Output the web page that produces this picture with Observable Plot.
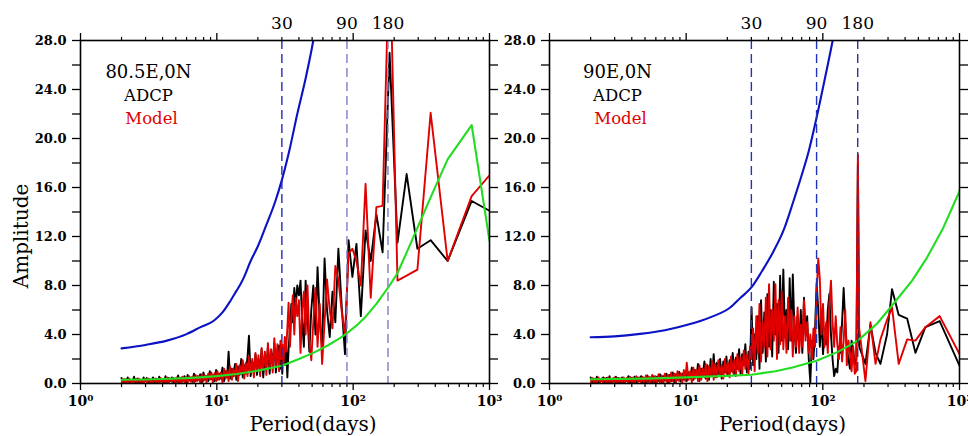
<!DOCTYPE html>
<html><head><meta charset="utf-8">
<script src="https://cdn.jsdelivr.net/npm/d3@7"></script>
<script src="https://cdn.jsdelivr.net/npm/@observablehq/plot@0.6"></script>
<style>
body{margin:0;background:#fff;}
#chart{display:flex;width:968px;height:436px;overflow:hidden;background:#fff;}
#chart svg{flex:none;max-width:none;}
</style></head><body><div id="chart"></div>
<script>
// ---------- labels & ticks ----------
const panelTitles = ["80.5E,0N", "90E,0N"];
const seriesNames = ["ADCP", "Model"];
const yAxisTitle = "Amplitude";
const xAxisTitle = "Period(days)";
const yTicks = [0, 4, 8, 12, 16, 20, 24, 28];
const yMinorTicks = [2, 6, 10, 14, 18, 22, 26];
const xDecades = [1, 10, 100, 1000];
const xMinorTicks = [2,3,4,5,6,7,8,9,20,30,40,50,60,70,80,90,200,300,400,500,600,700,800,900];
const markedPeriods = [30, 90, 180];

// ---------- short-period band (shared period grid, days) ----------
const shortPeriods = [
 2.00,2.05,2.11,2.16,2.22,2.28,2.34,2.41,2.47,2.54,2.61,2.68,2.75,2.82,2.90,2.98,3.06,3.14,3.22,3.31,
 3.40,3.49,3.58,3.68,3.78,3.88,3.99,4.09,4.20,4.32,4.43,4.55,4.68,4.80,4.93,5.07,5.20,5.34,5.49,5.64,
 5.79,5.95,6.11,6.27,6.44,6.62,6.80,6.98,7.17,7.36,7.56,7.77,7.98,8.19,8.41,8.64,8.88,9.12,9.36,9.62,
 9.88,10.1,10.4,10.7,11.0,11.3,11.6,11.9,12.2,12.5,12.9,13.2,13.6,13.9,14.3,14.7,15.1,15.5,15.9,16.3,
 16.8,17.2,17.7,18.2,18.7,19.2,19.7,20.2,20.8,21.3,21.9,22.5,23.1,23.7,24.4,25.0,25.7,26.4,27.1,27.8,28.6,29.3];

// ---------- Left panel: 80.5E,0N ----------
const adcpShortL = [
 0.45,0.05,0.35,0.1,0.5,0.0,0.3,0.15,0.55,0.05,0.4,0.1,0.3,0.0,0.5,0.2,0.45,0.05,0.35,0.1,
 0.5,0.1,0.4,0.0,0.55,0.15,0.35,0.05,0.6,0.1,0.45,0.2,0.5,0.05,0.4,0.15,0.65,0.1,0.5,0.2,
 0.6,0.1,0.7,0.25,0.5,0.15,0.8,0.2,0.6,0.3,0.75,0.1,0.9,0.3,0.6,0.2,1.0,0.35,0.7,0.2,
 1.1,0.3,0.8,0.4,1.3,0.2,1.0,0.5,2.6,0.4,1.2,0.6,1.6,0.3,1.4,0.7,2.0,0.5,1.5,0.8,
 2.2,3.9,0.6,1.8,1.0,2.4,0.7,2.0,1.2,2.8,0.5,2.2,1.4,3.0,0.8,2.6,1.6,3.3,0.9,2.4,3.1,1.2];
const modelShortL = [
 0.0,0.35,0.05,0.3,0.0,0.4,0.1,0.3,0.0,0.35,0.05,0.4,0.1,0.3,0.0,0.35,0.1,0.4,0.05,0.3,
 0.0,0.4,0.1,0.35,0.0,0.45,0.1,0.3,0.05,0.5,0.0,0.4,0.15,0.45,0.05,0.5,0.1,0.4,0.0,0.55,
 0.1,0.5,0.05,0.6,0.15,0.55,0.0,0.7,0.2,0.6,0.05,0.75,0.2,0.65,0.1,0.8,0.3,0.9,0.1,0.85,
 0.2,1.0,0.3,0.9,0.1,1.2,0.4,1.0,0.2,1.4,0.3,1.2,0.6,1.6,0.2,1.5,0.8,1.9,0.4,1.7,
 0.6,2.2,0.9,2.0,0.5,2.5,1.0,2.3,0.6,2.9,1.2,2.6,0.7,3.3,1.3,2.8,0.9,3.7,1.5,3.2,1.0,3.5];
const longPeriodsL = [29.6,30.2,30.8,31.5,32.2,32.9,33.6,34.4,35.2,36.1,37.0,37.9,38.9,40.0,41.1,42.3,43.5,44.8,46.25,47.7,
 49.3,51.0,52.9,54.8,56.9,59.2,61.7,64.3,67.3,70.5,74.0,77.9,82.2,87.1,92.5,98.7,105.7,113.8,123.3,134.5,
 148.0,164.4,185.0,211.4,246.7,296.0,370.0,493.3,740.0,1000];
const adcpLongL = [2.8,0.8,3.0,1.5,3.4,0.5,2.8,4.5,6.5,5.0,7.8,6.2,8.0,7.2,8.4,5.0,3.0,8.4,5.5,2.6,
 6.0,8.0,4.0,9.5,5.0,2.9,10.2,6.0,3.8,7.5,5.0,11.0,6.5,2.4,11.7,8.7,11.4,5.5,12.5,10.0,
 13.8,10.7,27.0,11.5,17.1,11.0,11.7,10.0,14.9,14.1];
const modelLongL = [2.0,3.2,1.5,3.8,2.6,4.5,6.6,3.0,5.5,7.2,4.0,7.0,5.5,6.8,2.5,6.0,7.5,4.0,8.0,3.5,
 1.9,5.0,7.8,3.0,6.5,1.6,5.0,8.5,6.0,4.5,9.6,8.5,6.0,4.0,10.6,11.0,10.0,8.0,16.3,7.0,
 14.4,14.5,36.0,8.4,8.8,9.3,22.1,10.0,15.3,17.0];
const noisePeriodsL = [2,3,4.3,6,7.6,9.5,11,12.6,14,14.9,15.8,17.7,20,23,26.9,29.9,34,38.9,45,51,54];
const noiseL = [2.87,3.15,3.5,4.03,4.6,5.12,5.8,6.76,7.6,8.1,8.66,10.0,11.2,12.9,14.9,16.56,19.0,22.0,25.0,28.0,29.6];
const meanPeriodsL = [2,3,4,6,8,10,14,20,25,30,40,51,65,80,90,105,120,148,185,211,247,296,370,493,740,1000];
const meanL = [0.3,0.33,0.37,0.44,0.52,0.6,0.77,1.05,1.26,1.45,2.0,2.5,3.1,3.7,4.1,4.7,5.3,6.5,8.0,9.0,10.7,12.7,15.2,18.3,21.1,11.65];

// ---------- Right panel: 90E,0N ----------
const adcpShortR = [
 0.5,0.05,0.4,0.1,0.55,0.0,0.35,0.2,0.5,0.05,0.45,0.1,0.6,0.0,0.4,0.15,0.55,0.05,0.45,0.1,
 0.5,0.0,0.4,0.2,0.6,0.05,0.45,0.1,0.55,0.0,0.5,0.2,0.6,0.1,0.45,0.0,0.65,0.15,0.5,0.1,
 0.6,0.0,0.55,0.2,0.75,0.1,0.6,0.25,0.8,0.05,0.7,0.2,0.9,0.1,0.75,0.3,0.95,0.15,0.8,0.3,
 1.0,0.2,0.9,0.4,1.3,0.3,1.1,0.5,1.6,0.2,1.2,0.6,1.8,0.4,1.5,0.3,2.0,0.6,2.4,0.5,
 1.7,0.8,2.0,0.4,1.8,0.9,2.2,0.6,1.9,1.0,2.5,0.7,2.1,1.2,2.8,0.8,2.4,1.5,3.2,0.9,2.6,1.2];
const modelShortR = [
 0.0,0.45,0.05,0.35,0.0,0.5,0.1,0.4,0.0,0.45,0.05,0.5,0.0,0.4,0.1,0.5,0.0,0.45,0.05,0.4,
 0.0,0.5,0.1,0.45,0.0,0.55,0.05,0.5,0.0,0.6,0.1,0.5,0.0,0.55,0.05,0.65,0.1,0.55,0.0,0.7,
 0.05,0.6,0.0,0.75,0.1,0.65,0.0,0.8,0.15,0.7,0.0,0.9,0.2,0.8,0.05,1.0,0.2,0.85,0.1,1.1,
 0.2,1.7,0.3,1.0,0.1,1.3,0.4,1.1,0.2,1.5,0.3,1.2,0.5,1.6,0.2,1.4,0.6,1.8,0.3,1.6,
 0.5,1.9,0.7,1.5,0.4,2.0,0.8,1.7,0.5,2.2,0.9,1.9,0.6,2.4,1.0,2.1,0.7,2.7,1.2,2.3,0.8,3.0];
const longPeriodsR = [30.1,30.9,31.7,32.6,33.5,34.4,35.3,36.3,37.3,38.3,39.3,40.4,41.5,42.6,43.8,45.0,46.2,47.4,48.7,50.0,
 51.4,52.8,54.2,55.7,57.2,58.7,60.3,62.0,63.6,65.4,67.1,69.0,70.8,72.8,74.7,76.8,78.9,81.0,83.2,85.4,
 87.7,90.1,92.6,95.1,97.7,100.3,103.0,105.8,108.7,111.6,114.7,117.8,121.0,124.2,127.6,131.1,134.6,138.3,142.0,145.9,
 149.8,153.9,158.0,162.3,166.7,171.2,175.8,180.5,184.5,205,223,243,264,295,321,359,414,476,563,716,1000];
const adcpLongR = [6.2,1.5,4.0,2.0,5.5,1.2,6.8,2.5,5.8,1.8,7.3,3.0,6.0,2.2,8.3,4.0,6.5,2.5,8.8,3.5,
 9.3,4.0,6.0,2.8,8.6,3.5,8.9,4.5,2.5,5.5,3.0,6.0,2.5,7.0,4.0,5.5,2.0,0.1,3.5,2.0,
 4.5,8.2,6.0,3.0,5.5,2.4,4.0,3.2,6.0,7.3,4.0,2.0,0.6,1.2,0.9,3.0,2.5,5.0,7.8,5.0,
 3.0,2.0,1.2,3.5,2.8,1.5,2.0,18.0,3.0,1.6,4.8,2.5,1.6,4.0,7.7,5.6,5.3,2.5,4.6,5.1,1.45];
const modelLongR = [2.0,4.5,1.0,5.5,2.5,6.5,1.8,5.0,3.0,7.0,2.2,8.1,2.8,6.0,3.5,8.1,2.0,6.8,3.2,7.5,
 2.8,5.5,2.5,7.0,3.5,6.0,2.2,5.5,3.0,6.2,2.5,4.8,3.0,6.8,3.5,5.0,2.5,4.0,2.0,4.5,
 3.0,7.5,10.2,8.5,4.0,6.5,3.0,5.0,2.5,6.5,8.4,5.0,3.0,5.5,3.2,2.0,4.6,1.8,3.5,6.0,
 1.5,3.5,2.5,1.0,3.0,0.8,1.0,18.7,4.5,0.2,5.0,1.6,3.6,5.2,6.2,1.6,3.6,3.5,4.6,5.5,2.4];
const noisePeriodsR = [2,3,4.6,7,10.7,15,21,25,30,36,43.6,52,61,70,79,90,104,118,124];
const noiseR = [3.78,3.85,4.05,4.35,4.85,5.4,6.2,7.0,7.84,9.2,10.8,12.6,14.9,17.0,19.0,21.7,25.0,28.0,29.3];
const meanPeriodsR = [2,5,10,20,30,45,60,90,130,180,250,320,450,580,760,1000];
const meanR = [0.35,0.4,0.5,0.62,0.72,1.0,1.3,1.85,2.6,3.5,4.9,6.35,8.4,10.3,12.7,15.7];

// ---------- drawing ----------
const sup = ["\u2070","\u00B9","\u00B2","\u00B3"];
const rows = (P, V) => P.map((p, i) => ({p, v: V[i]}));

function panel(o) {
  const adcp = rows(shortPeriods.concat(o.longP), o.shortA.concat(o.longA));
  const model = rows(shortPeriods.concat(o.longP), o.shortM.concat(o.longM));
  const noise = rows(o.noiseP, o.noiseV);
  const mean = rows(o.meanP, o.meanV);
  const marks = [
    Plot.line(adcp, {x: "p", y: "v", stroke: "#000", strokeWidth: 1.9, clip: true}),
    Plot.line(model, {x: "p", y: "v", stroke: "#e00000", strokeWidth: 1.9, clip: true}),
    Plot.line(mean, {x: "p", y: "v", stroke: "#22dd22", strokeWidth: 2.1, clip: true}),
    Plot.line(noise, {x: "p", y: "v", stroke: "#0a12c4", strokeWidth: 2.1, curve: "monotone-x", clip: true}),
    ...markedPeriods.map((m, i) => Plot.ruleX([m], {stroke: o.dashColors[i], strokeWidth: 1.4, strokeDasharray: "9,5"})),
    Plot.frame({stroke: "#000", strokeWidth: 1.6}),
    Plot.axisY(yTicks, {anchor: "left", label: null, tickSize: 8, tickPadding: 6, strokeWidth: 1.3,
      tickFormat: d => d.toFixed(1), fontSize: 13, fontWeight: "bold"}),
    Plot.axisY(yMinorTicks, {anchor: "left", label: null, tickSize: 8, strokeWidth: 1.3, fill: "none"}),
    Plot.axisY(yTicks.concat(yMinorTicks), {anchor: "right", label: null, tickSize: 8, strokeWidth: 1.3, fill: "none"}),
    Plot.axisX(xDecades, {anchor: "bottom", label: null, tickSize: 7, tickPadding: 6, strokeWidth: 1.3,
      tickFormat: d => "10" + sup[Math.round(Math.log10(d))], fontSize: 14, fontWeight: "bold"}),
    Plot.axisX(xMinorTicks, {anchor: "bottom", label: null, tickSize: 4, strokeWidth: 1.2, fill: "none"}),
    Plot.axisX(xDecades, {anchor: "top", label: null, tickSize: 8, strokeWidth: 1.3, fill: "none"}),
    Plot.axisX(xMinorTicks, {anchor: "top", label: null, tickSize: 4, strokeWidth: 1.2, fill: "none"}),
    Plot.text(markedPeriods, {x: d => d, text: d => String(d), frameAnchor: "top", dy: -12, textAnchor: "middle", lineAnchor: "bottom", fontSize: 17}),
    Plot.text([o.title], {text: d => d, frameAnchor: "top-left", dx: 68, dy: 37, textAnchor: "middle", lineAnchor: "bottom", fontSize: 18}),
    Plot.text([seriesNames[0]], {text: d => d, frameAnchor: "top-left", dx: 68, dy: 60, textAnchor: "middle", lineAnchor: "bottom", fontSize: 16.5, fill: "#000"}),
    Plot.text([seriesNames[1]], {text: d => d, frameAnchor: "top-left", dx: 71, dy: 83, textAnchor: "middle", lineAnchor: "bottom", fontSize: 16.5, fill: "#dd0000"}),
    Plot.text([xAxisTitle], {text: d => d, frameAnchor: "bottom", dx: 28, dy: 47, textAnchor: "middle", lineAnchor: "bottom", fontSize: 20})
  ];
  if (o.showY) marks.push(Plot.text([yAxisTitle], {text: d => d, frameAnchor: "left", dx: -59, dy: 24, rotate: -90, textAnchor: "middle", lineAnchor: "middle", fontSize: 20}));
  return Plot.plot({
    width: o.width, height: 436,
    marginLeft: o.marginLeft, marginRight: o.marginRight, marginTop: 40, marginBottom: 53,
    x: {type: "log", domain: [1, 1000], label: null},
    y: {domain: [0, 28], label: null},
    style: {fontFamily: "'DejaVu Serif', serif", background: "none", color: "#000", overflow: "visible"},
    marks
  });
}

const chart = document.getElementById("chart");
chart.append(panel({title: panelTitles[0], shortA: adcpShortL, shortM: modelShortL, longP: longPeriodsL, longA: adcpLongL, longM: modelLongL,
  noiseP: noisePeriodsL, noiseV: noiseL, meanP: meanPeriodsL, meanV: meanL,
  dashColors: ["#1f2db5", "#7d7dc8", "#7d7dc8"], width: 500, marginLeft: 80, marginRight: 11, showY: true}));
chart.append(panel({title: panelTitles[1], shortA: adcpShortR, shortM: modelShortR, longP: longPeriodsR, longA: adcpLongR, longM: modelLongR,
  noiseP: noisePeriodsR, noiseV: noiseR, meanP: meanPeriodsR, meanV: meanR,
  dashColors: ["#2233bb", "#2233bb", "#333388"], width: 468, marginLeft: 49, marginRight: 9, showY: false}));
</script></body></html>
